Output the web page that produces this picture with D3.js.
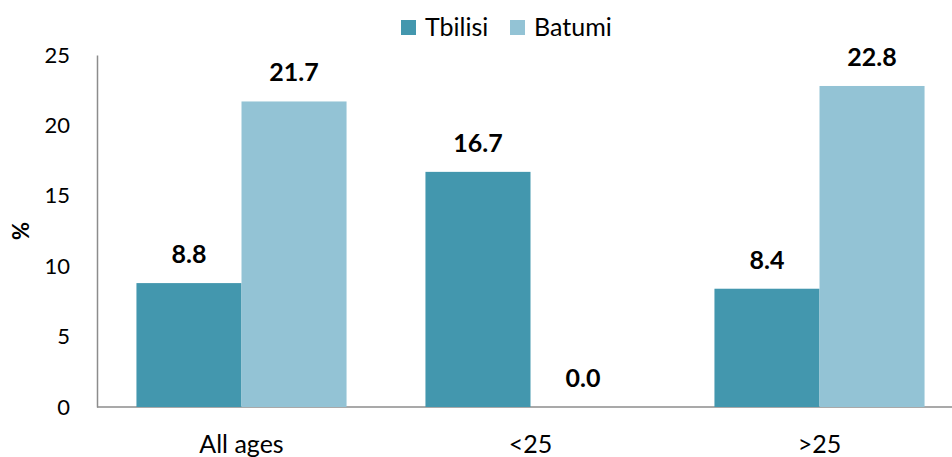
<meta charset="utf-8">
<style>
body { margin: 0; background: #fff; }
svg text { font-family: Lato, "Open Sans", sans-serif; fill: #000; }
</style>
<body>
<div id="chart"></div>
<script src="https://cdn.jsdelivr.net/npm/d3@7"></script>
<script>
// data
var categories = ["All ages", "<25", ">25"];
var seriesNames = ["Tbilisi", "Batumi"];
var tbilisi = [8.8, 16.7, 8.4];
var batumi = [21.7, 0.0, 22.8];
var yTicks = [0, 5, 10, 15, 20, 25];
var colors = ["#4397AE", "#93C3D5"];

var W = 952, H = 457;
var plotL = 97, plotR = 964, plotT = 55, plotB = 407;

var svg = d3.select("#chart").append("svg")
    .attr("width", W)
    .attr("height", H);

var x = d3.scaleBand().domain(categories).range([plotL, plotR])
    .paddingInner(0.273).paddingOuter(0.1365);
var x1 = d3.scaleBand().domain(seriesNames).range([0, x.bandwidth()]);
var y = d3.scaleLinear().domain([0, 25]).range([plotB, plotT]);

var rows = categories.map(function(c, i) {
    return {cat: c, values: [
        {name: "Tbilisi", v: tbilisi[i]},
        {name: "Batumi", v: batumi[i]}
    ]};
});

// y axis
var yAxis = svg.append("g")
    .attr("transform", "translate(" + plotL + ",0)")
    .call(d3.axisLeft(y).tickValues(yTicks).tickSize(0).tickPadding(27));
yAxis.select(".domain").attr("stroke", "#8c8c8c").attr("stroke-width", 1.5);
yAxis.selectAll("text").style("font-size", "22px").attr("fill", "#000");

// x axis
var xAxis = svg.append("g")
    .attr("transform", "translate(0," + plotB + ")")
    .call(d3.axisBottom(x).tickSize(0).tickPadding(0));
xAxis.select(".domain").attr("stroke", "#8c8c8c").attr("stroke-width", 1.5)
    .attr("d", "M" + plotL + ",0H" + W);
xAxis.selectAll("text")
    .attr("dy", null).attr("y", 46)
    .style("font-size", "25px").attr("fill", "#000");

// bars
var groups = svg.selectAll(".grp")
    .data(rows)
    .enter().append("g")
    .attr("class", "grp")
    .attr("transform", function(d) { return "translate(" + x(d.cat) + ",0)"; });

groups.selectAll("rect")
    .data(function(d) { return d.values; })
    .enter().append("rect")
    .attr("x", function(d) { return x1(d.name); })
    .attr("width", x1.bandwidth())
    .attr("y", function(d) { return y(d.v); })
    .attr("height", function(d) { return plotB - y(d.v); })
    .attr("fill", function(d, i) { return colors[i]; });

groups.selectAll(".lbl")
    .data(function(d) { return d.values; })
    .enter().append("text")
    .attr("class", "lbl")
    .attr("x", function(d) { return x1(d.name) + x1.bandwidth() / 2; })
    .attr("y", function(d) { return y(d.v) - 20; })
    .attr("text-anchor", "middle")
    .style("font-size", "25px")
    .style("font-weight", "bold")
    .text(function(d) { return d.v.toFixed(1); });

// y label
svg.append("text")
    .attr("transform", "translate(29,231) rotate(-90)")
    .attr("text-anchor", "middle")
    .style("font-size", "22px")
    .style("font-weight", "bold")
    .text("%");

// legend
var legendX = [401, 510];
var leg = svg.selectAll(".leg")
    .data(seriesNames)
    .enter().append("g")
    .attr("class", "leg")
    .attr("transform", function(d, i) { return "translate(" + legendX[i] + ",20)"; });
leg.append("rect").attr("width", 15).attr("height", 15)
    .attr("fill", function(d, i) { return colors[i]; });
leg.append("text").attr("x", 24).attr("y", 16)
    .style("font-size", "25px")
    .text(function(d) { return d; });
</script>
</body>
